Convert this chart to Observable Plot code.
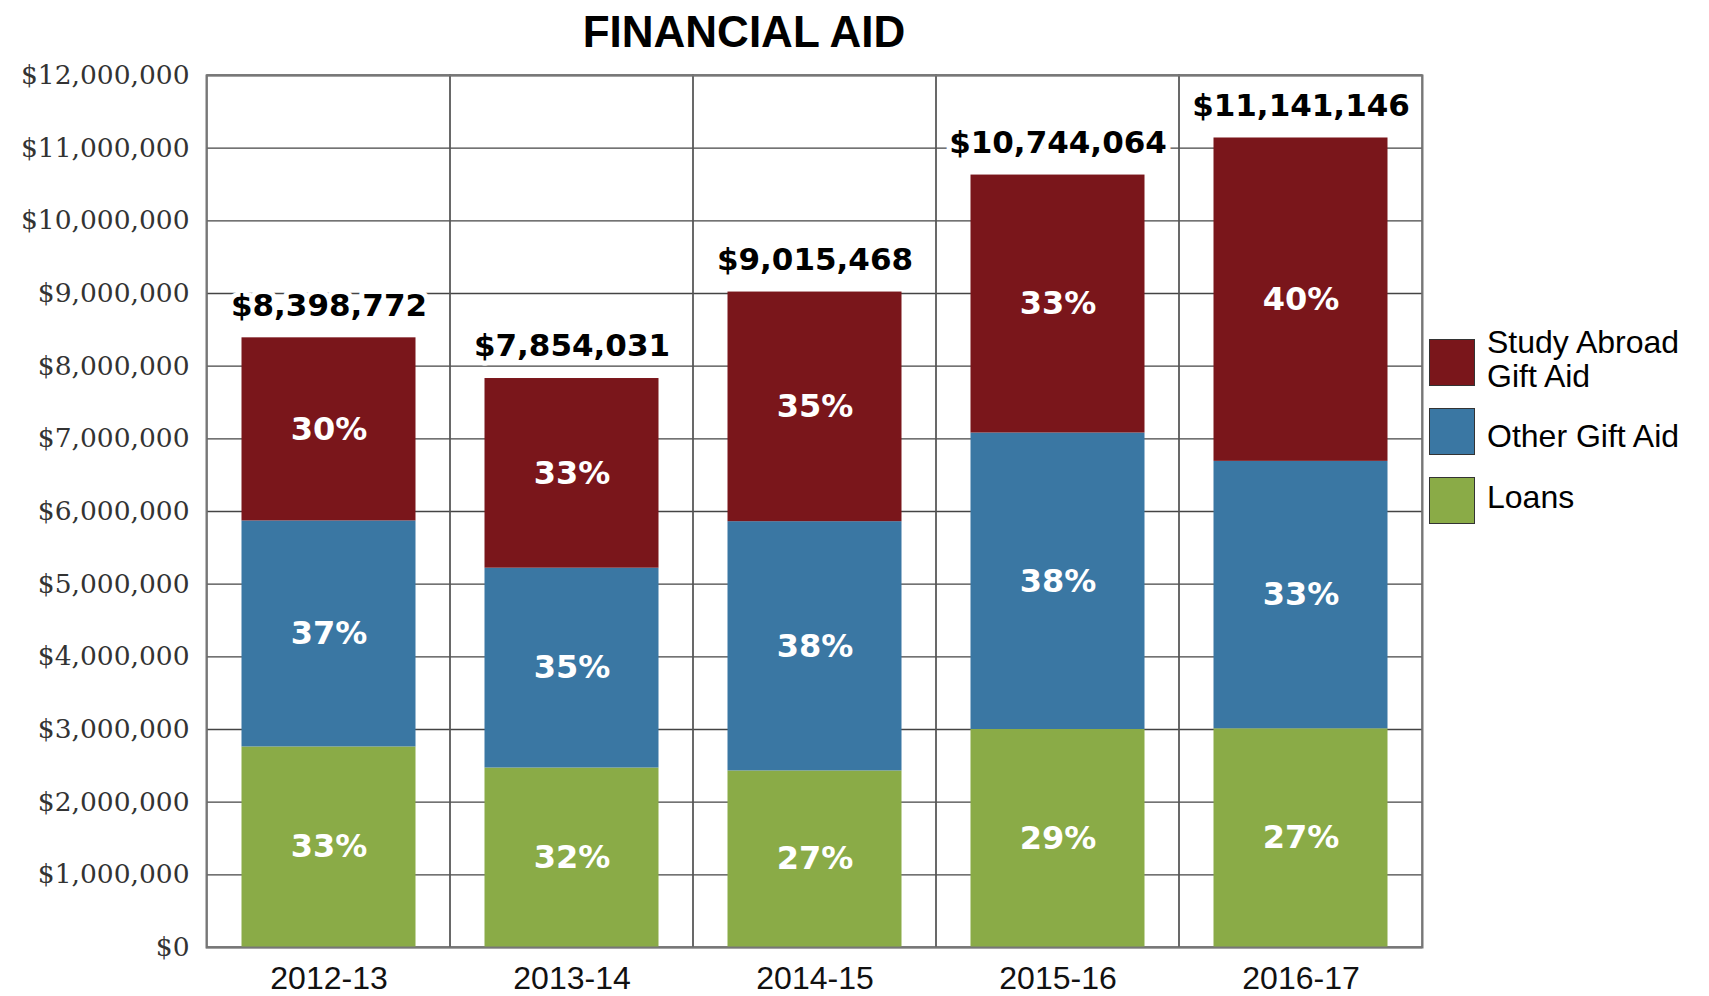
<!DOCTYPE html>
<html>
<head>
<meta charset="utf-8">
<script src="https://cdn.jsdelivr.net/npm/d3@7"></script>
<script src="https://cdn.jsdelivr.net/npm/@observablehq/plot@0.6"></script>
<style>
  html, body { margin: 0; padding: 0; background: white; }
  #page { position: relative; width: 1709px; height: 996px; overflow: hidden; }
  #title { height: 60px; position: relative; }
  #title div { position: absolute; left: 0; top: 10px; width: 1488px; text-align: center;
    font: bold 44px "Liberation Sans", Arial, sans-serif; line-height: 44px; color: #000; }
  .legend-item { position: absolute; left: 1429px; height: 47px; display: flex; align-items: center; }
  .legend-swatch { width: 46px; height: 47px; box-sizing: border-box; border: 1.5px solid #333; flex: none; }
  .legend-label { margin-left: 12px; font: 32px "Liberation Sans", Arial, sans-serif; line-height: 34px;
    color: #000; white-space: pre-line; position: relative; }
</style>
</head>
<body>
<div id="page">
  <div id="title"><div>FINANCIAL AID</div></div>
  <div id="chart"></div>
</div>
<script>
// ---- data ----
const years = ["2012-13", "2013-14", "2014-15", "2015-16", "2016-17"];
const series = ["Loans", "Other Gift Aid", "Study Abroad Gift Aid"];
const legendLabels = ["Study Abroad\nGift Aid", "Other Gift Aid", "Loans"];
const colors = ["#8aab47", "#3a77a3", "#7a161b"];

const loans       = [2760000, 2470000, 2430000, 3000000, 3010000];
const otherGift   = [3110000, 2750000, 3430000, 4080000, 3680000];
const studyAbroad = [2520000, 2610000, 3160000, 3550000, 4450000];

const loansPct       = [33, 32, 27, 29, 27];
const otherGiftPct   = [37, 35, 38, 38, 33];
const studyAbroadPct = [30, 33, 35, 33, 40];

const totalLabels = ["$8,398,772", "$7,854,031", "$9,015,468", "$10,744,064", "$11,141,146"];
const yTicks = [0, 1000000, 2000000, 3000000, 4000000, 5000000, 6000000,
                7000000, 8000000, 9000000, 10000000, 11000000, 12000000];

// ---- tidy table built from the arrays ----
const valuesBySeries = [loans, otherGift, studyAbroad];
const pctBySeries = [loansPct, otherGiftPct, studyAbroadPct];
const data = [];
years.forEach((year, i) => {
  series.forEach((s, j) => {
    data.push({year, series: s, value: valuesBySeries[j][i], pct: pctBySeries[j][i]});
  });
});
const tops = years.map((_, i) => loans[i] + otherGift[i] + studyAbroad[i]);

const fmt = d3.format(",");

const chart = Plot.plot({
  width: 1709,
  height: 936,
  marginTop: 15,
  marginBottom: 49,
  marginLeft: 206,
  marginRight: 287,
  x: {domain: years, padding: 0, label: null},
  y: {domain: [0, 12000000], label: null},
  color: {domain: series, range: colors},
  style: {background: "white", fontFamily: "Liberation Sans, Arial, sans-serif"},
  marks: [
    Plot.ruleY(yTicks, {stroke: "#444", strokeWidth: 1.3}),
    Plot.barY(years, {x: d => d, y1: 0, y2: 12000000, fill: "none", stroke: "#555", strokeWidth: 1.3}),
    Plot.barY(data, {x: "year", y: "value", fill: "series", insetLeft: 34.5, insetRight: 34.5}),
    Plot.text(data, Plot.stackY({
      x: "year", y: "value", z: "series",
      text: d => d.pct + "%",
      fill: "white", fontSize: 32, fontWeight: "bold", fontFamily: "DejaVu Sans"
    })),
    Plot.text(years, {
      x: d => d, y: (d, i) => tops[i], text: (d, i) => totalLabels[i],
      dy: -32, fontSize: 31, fontWeight: "bold", fontFamily: "DejaVu Sans",
      fill: "#000", stroke: "white", strokeWidth: 10
    }),
    Plot.frame({stroke: "#777", strokeWidth: 2}),
    Plot.axisY({
      ticks: yTicks, tickFormat: d => "$" + fmt(d), tickSize: 0, tickPadding: 17,
      fontSize: 26.5, fontFamily: "DejaVu Serif", fill: "#333", label: null
    }),
    Plot.axisX({tickSize: 0, tickPadding: 19, fontSize: 32, fill: "#111", label: null})
  ]
});
document.getElementById("chart").appendChild(chart);

// ---- legend (HTML) ----
const page = document.getElementById("page");
const legendOrder = [2, 1, 0];
const labelShift = [-4, 4, -4];
legendOrder.forEach((j, k) => {
  const item = document.createElement("div");
  item.className = "legend-item";
  item.style.top = (339 + 69 * k) + "px";
  const sw = document.createElement("div");
  sw.className = "legend-swatch";
  sw.style.background = colors[j];
  const lab = document.createElement("div");
  lab.className = "legend-label";
  lab.style.top = labelShift[k] + "px";
  lab.textContent = legendLabels[k];
  item.appendChild(sw);
  item.appendChild(lab);
  page.appendChild(item);
});
</script>
</body>
</html>
